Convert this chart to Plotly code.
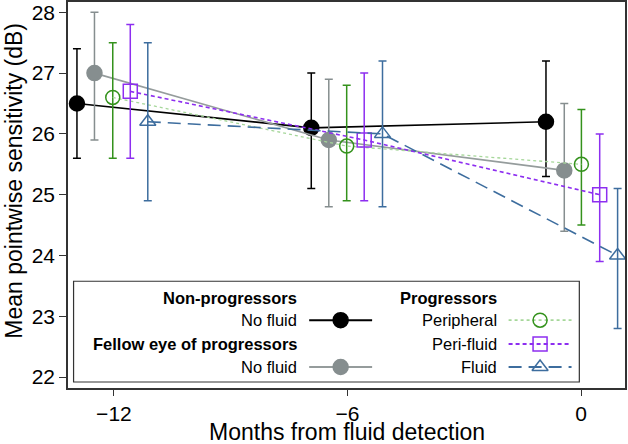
import plotly.graph_objects as go

# months (with the small horizontal offsets used in the figure)
x_nonprog = [-12.95, -6.93, -0.90]
x_fellow = [-12.50, -6.48, -0.43]
x_periph = [-12.03, -6.02, 0.01]
x_perifl = [-11.58, -5.57, 0.48]
x_fluid = [-11.13, -5.10, 0.94]

# mean pointwise sensitivity (dB) and 95% limits
y_nonprog = [26.5, 26.1, 26.2]
lo_nonprog = [25.6, 25.1, 25.3]
hi_nonprog = [27.4, 27.0, 27.2]

y_fellow = [27.0, 25.9, 25.4]
lo_fellow = [25.9, 24.8, 24.4]
hi_fellow = [28.0, 26.9, 26.5]

y_periph = [26.6, 25.8, 25.5]
lo_periph = [25.6, 24.9, 24.5]
hi_periph = [27.5, 26.8, 26.4]

y_perifl = [26.7, 25.9, 25.0]
lo_perifl = [25.6, 24.9, 23.9]
hi_perifl = [27.8, 27.0, 26.0]

y_fluid = [26.2, 26.0, 24.0]
lo_fluid = [24.9, 24.8, 22.8]
hi_fluid = [27.5, 27.2, 25.1]

tick_months = [-12, -6, 0]

FONT = "Liberation Sans, Arial, sans-serif"

series = [
    # name, x, y, lo, hi, color, line color, dash, symbol, line width
    ("No fluid", x_nonprog, y_nonprog, lo_nonprog, hi_nonprog, "#000000", "#000000", "solid", "circle", 1.6),
    ("No fluid", x_fellow, y_fellow, lo_fellow, hi_fellow, "#868e8f", "#959c9c", "solid", "circle", 1.6),
    ("Peripheral", x_periph, y_periph, lo_periph, hi_periph, "#34921c", "#a6d79a", "dot", "circle-open", 1.3),
    ("Peri-fluid", x_perifl, y_perifl, lo_perifl, hi_perifl, "#8d2ef0", "#8d2ef0", "4px,3px", "square-open", 1.6),
    ("Fluid", x_fluid, y_fluid, lo_fluid, hi_fluid, "#3d6d9e", "#3d6d9e", "13px,7px", "triangle-up-open", 1.6),
]

fig = go.Figure()

for name, xs, ys, lo, hi, col, lcol, dash, sym, lw in series:
    fig.add_trace(go.Scatter(
        x=xs, y=ys, mode="lines+markers", name=name, showlegend=False, cliponaxis=False,
        line=dict(color=lcol, width=lw, dash=dash),
        marker=dict(symbol=sym, size=14 if "open" in sym else 15, color=col,
                    line=dict(color=col, width=1.5)),
        error_y=dict(type="data", symmetric=False,
                     array=[h - v for h, v in zip(hi, ys)],
                     arrayminus=[v - l for v, l in zip(ys, lo)],
                     color=col, thickness=1.5, width=4),
    ))

# hand-made legend drawn on an overlay axis spanning the plot area
leg_rows = [0.2326, 0.1757, 0.1137, 0.0543]
col1_text, col1_sym = 0.414, (0.433, 0.546)
col2_text, col2_sym = 0.773, (0.791, 0.904)

legend_items = [
    (series[0], col1_text, col1_sym, leg_rows[1]),
    (series[1], col1_text, col1_sym, leg_rows[3]),
    (series[2], col2_text, col2_sym, leg_rows[1]),
    (series[3], col2_text, col2_sym, leg_rows[2]),
    (series[4], col2_text, col2_sym, leg_rows[3]),
]

for (name, xs, ys, lo, hi, col, lcol, dash, sym, lw), tx, (s0, s1), ry in legend_items:
    fig.add_trace(go.Scatter(
        x=[s0, s1], y=[ry, ry], mode="lines", xaxis="x2", yaxis="y2", showlegend=False,
        line=dict(color=lcol, width=lw + 0.4, dash=dash), hoverinfo="skip"))
    fig.add_trace(go.Scatter(
        x=[(s0 + s1) / 2], y=[ry], mode="markers", xaxis="x2", yaxis="y2", showlegend=False,
        marker=dict(symbol=sym, size=14 if "open" in sym else 15, color=col,
                    line=dict(color=col, width=1.5)), hoverinfo="skip"))
    fig.add_annotation(x=tx, y=ry, xref="paper", yref="paper", text=name, showarrow=False,
                       xanchor="right", yanchor="middle",
                       font=dict(family=FONT, size=16.5, color="#000000"))

headers = [
    ("<b>Non-progressors</b>", col1_text, leg_rows[0]),
    ("<b>Fellow eye of progressors</b>", col1_text, leg_rows[2]),
    ("<b>Progressors</b>", col2_text, leg_rows[0]),
]
for txt, tx, ry in headers:
    fig.add_annotation(x=tx, y=ry, xref="paper", yref="paper", text=txt, showarrow=False,
                       xanchor="right", yanchor="middle",
                       font=dict(family=FONT, size=16.5, color="#000000"))

fig.add_shape(type="rect", xref="paper", yref="paper", x0=0.01, x1=0.918, y0=0.0155, y1=0.2765,
              line=dict(color="#333333", width=1.2), fillcolor="white", layer="below")

# axis titles placed as annotations
fig.add_annotation(x=0.5, y=0, xref="paper", yref="paper", yshift=-44,
                   text="Months from fluid detection", showarrow=False,
                   xanchor="center", yanchor="middle", font=dict(family=FONT, size=23))
fig.add_annotation(x=0, y=0.537, xref="paper", yref="paper", xshift=-54, textangle=-90,
                   text="Mean pointwise sensitivity (dB)", showarrow=False,
                   xanchor="center", yanchor="middle", font=dict(family=FONT, size=23))

fig.update_layout(
    width=628, height=444,
    margin=dict(l=68, r=3, t=2, b=56),
    paper_bgcolor="white", plot_bgcolor="white",
    font=dict(family=FONT, size=21, color="#000000"),
    xaxis=dict(range=[-13.18, 1.13], tickvals=tick_months, ticks="outside", ticklen=6,
               tickwidth=1.2, tickcolor="#333333", showline=True, linecolor="#333333",
               linewidth=1.5, mirror=True, showgrid=False, zeroline=False,
               tickfont=dict(size=21), automargin=False),
    yaxis=dict(range=[21.82, 28.17], dtick=1, ticks="outside", ticklen=7,
               tickwidth=1.2, tickcolor="#333333", showline=True, linecolor="#333333",
               linewidth=1.5, mirror=True, showgrid=False, zeroline=False,
               tickfont=dict(size=21), automargin=False),
    xaxis2=dict(overlaying="x", range=[0, 1], visible=False, fixedrange=True),
    yaxis2=dict(overlaying="y", range=[0, 1], visible=False, fixedrange=True),
)

# the page's default body margin would push the figure off the 628x444 window
fig.write_html("out.html", config={"displayModeBar": False},
               post_script="document.body.style.margin='0';")
